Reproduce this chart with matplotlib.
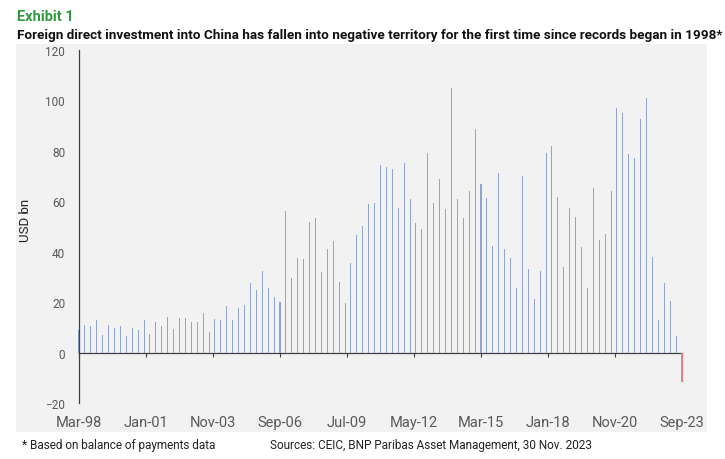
import numpy as np
import matplotlib
matplotlib.use("Agg")
import matplotlib.pyplot as plt
from matplotlib.patches import Rectangle

plt.rcParams['font.family'] = ['Roboto', 'DejaVu Sans']

# quarterly FDI into China, USD bn, Mar-98 .. Sep-23
fdi = [
    8.8, 10.9, 10.4, 13.1, 7.1, 10.9, 9.9, 10.7, 6.6, 9.8,
    8.8, 13.1, 7.4, 12.1, 10.7, 14.1, 9.2, 13.6, 13.6, 12.3,
    12.0, 15.8, 8.2, 13.3, 12.8, 18.6, 12.9, 17.5, 19.0, 27.6,
    25.0, 32.4, 25.6, 22.0, 20.2, 56.0, 29.7, 37.6, 37.0, 51.8,
    53.5, 31.9, 40.9, 44.4, 28.0, 19.6, 35.7, 46.8, 50.1, 58.9,
    59.2, 74.5, 73.6, 72.9, 57.3, 75.3, 60.8, 51.4, 49.0, 79.0,
    59.2, 68.8, 57.0, 104.8, 61.0, 53.5, 63.9, 88.7, 66.7, 61.4,
    42.2, 71.3, 41.1, 37.6, 25.6, 69.9, 33.0, 21.1, 32.4, 79.1,
    81.9, 61.6, 34.0, 57.3, 53.8, 41.9, 25.6, 65.1, 44.6, 46.9,
    64.1, 96.9, 94.9, 78.6, 77.0, 92.8, 101.1, 38.0, 13.1, 27.6,
    20.3, 6.6, -11.6,
]
tick_labels = ['Mar-98', 'Jan-01', 'Nov-03', 'Sep-06', 'Jul-09',
               'May-12', 'Mar-15', 'Jan-18', 'Nov-20', 'Sep-23']
y_ticks = [-20, 0, 20, 40, 60, 80, 100, 120]

W, H = 725, 460
fig = plt.figure(figsize=(W / 100, H / 100), dpi=100)
fig.patch.set_facecolor('white')

# grey panel behind the chart
fig.add_artist(Rectangle((16 / W, 1 - 433 / H), (707 - 16) / W, (433 - 45) / H,
                         transform=fig.transFigure, facecolor='#f2f2f2',
                         edgecolor='none', zorder=0))

ax = fig.add_axes([79 / W, 1 - 404 / H, (682 - 79) / W, (404 - 51) / H])
ax.set_facecolor('none')

x = np.arange(len(fdi))
colors = ['#90a4cf' if v >= 0 else '#ec7b85' for v in fdi]
ax.bar(x, fdi, width=0.17, color=colors, linewidth=0, zorder=2, clip_on=False)

ax.set_xlim(0, len(fdi) - 1)
ax.set_ylim(-20, 120)
ax.set_yticks(y_ticks)
ax.tick_params(axis='y', length=0, pad=10, labelsize=8.5, labelcolor='#595959')

for s in ['top', 'right']:
    ax.spines[s].set_visible(False)
ax.spines['left'].set_color('#404040')
ax.spines['left'].set_linewidth(0.9)
ax.spines['bottom'].set_position(('data', 0))
ax.spines['bottom'].set_color('#404040')
ax.spines['bottom'].set_linewidth(0.9)
ax.spines['bottom'].set_zorder(1)

# label positions: every 34 months = 34/3 quarters
pos = [i * 34 / 3 for i in range(len(tick_labels))]
ax.set_xticks(pos)
ax.set_xticklabels([])
ax.tick_params(axis='x', length=3, color='#404040', direction='out')

sec = ax.secondary_xaxis('bottom')
sec.set_xticks(pos)
sec.set_xticklabels(tick_labels)
sec.spines['bottom'].set_visible(False)
sec.tick_params(length=0, pad=9, labelsize=10.5, labelcolor='#595959')

ax.set_ylabel('USD bn', fontsize=9.5, color='#222222')
ax.yaxis.set_label_coords((32 - 79) / 603, (404 - 220) / 353)

fig.text(17 / W, 1 - 17 / H, 'Exhibit 1', fontsize=10.5, fontweight='bold',
         color='#2e9a3c', va='center', ha='left')
fig.text(17 / W, 1 - 35 / H,
         'Foreign direct investment into China has fallen into negative territory '
         'for the first time since records began in 1998*',
         fontsize=9.7, fontweight='bold', color='#111111', va='center', ha='left')
fig.text(22 / W, 1 - 446 / H, '* Based on balance of payments data',
         fontsize=8.5, color='#222222', va='center', ha='left')
fig.text(270 / W, 1 - 446 / H,
         'Sources: CEIC, BNP Paribas Asset Management, 30 Nov. 2023',
         fontsize=8.5, color='#222222', va='center', ha='left')

fig.savefig('out.png', dpi=100, facecolor='white')
